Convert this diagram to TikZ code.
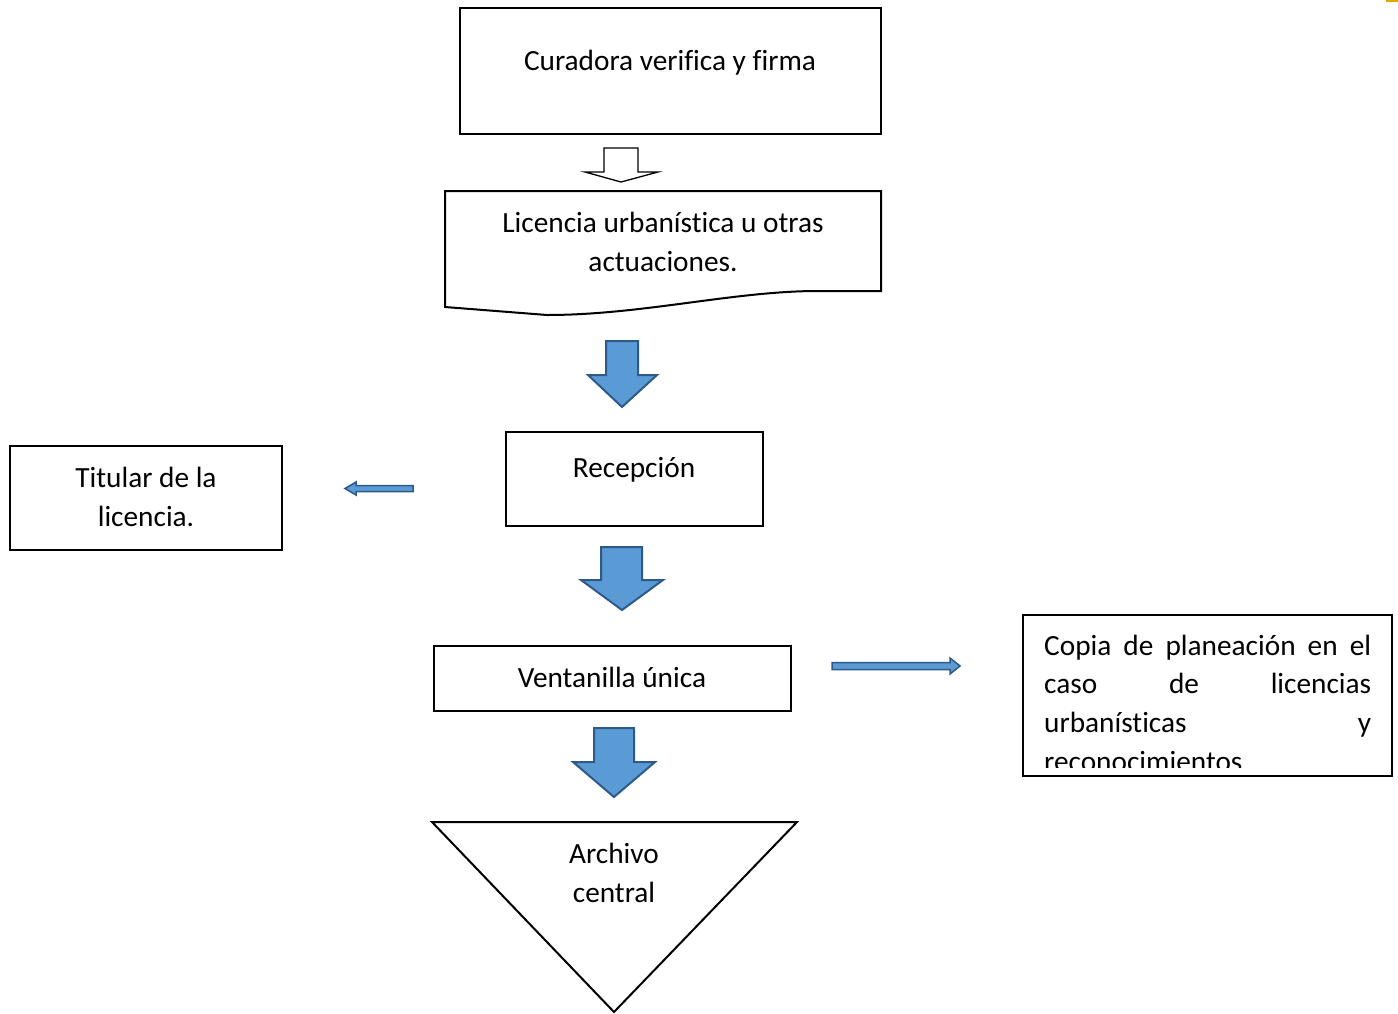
\documentclass[tikz,border=0pt]{standalone}
\usepackage{fontspec}
\setmainfont{Carlito}[Ligatures=CommonOff]
\definecolor{bfill}{HTML}{5B9BD5}
\definecolor{bline}{HTML}{2E5A8A}
\definecolor{orng}{HTML}{E0A800}
\begin{document}
\begin{tikzpicture}[x=1pt,y=-1pt,
  box/.style={draw=black,line width=2pt,fill=white,inner sep=0pt},
  txt/.style={inner sep=0pt,align=center,font=\fontsize{29.3}{39}\selectfont},
  blockarrow/.style={fill=bfill,draw=bline,line width=2pt,line join=miter},
  hollowarrow/.style={fill=white,draw=black,line width=1.3pt,line join=miter}]
\useasboundingbox (0,0) rectangle (1398,1013);
\fill[white] (0,0) rectangle (1398,1013);
% orange fragment at top-right
\draw[orng,line width=3pt] (1386,0.5) -- (1398,0.5);

% Box 1
\node[box,minimum width=421pt,minimum height=126pt] (cur) at (670.5,71) {};
\node[txt] (curt) at (670,63) {Curadora verifica y firma};

% hollow arrow
\draw[hollowarrow] (604,148) -- (638,148) -- (638,172) -- (658,172) -- (621,182) -- (585,172) -- (604,172) -- cycle;

% document shape
\draw[line width=2pt,fill=white,line join=miter] (445,191) coordinate (docA) -- (881,191) -- (881,291) -- (813,291)
  .. controls (730,292) and (640,315) .. (547,315) -- (445,307) -- cycle;
\node[txt] (doct) at (663,242) {Licencia urbanística u otras\\actuaciones.};

% blue arrow 1
\draw[blockarrow] (606,341) -- (638,341) -- (638,375) -- (657,375) -- (622,407) -- (588,375) -- (606,375) -- cycle;

% Recepcion
\node[box,minimum width=257pt,minimum height=94pt] (rec) at (634.5,479) {};
\node[txt] (rect) at (634,470) {Recepción};

% Titular
\node[box,minimum width=272pt,minimum height=104pt] (tit) at (146,498) {};
\node[txt] (titt) at (146,497) {Titular de la\\licencia.};

% thin left arrow
\draw[blockarrow,line width=1.5pt] (413,485.5) -- (356,485.5) -- (356,482) -- (345,488.5) -- (356,495) -- (356,491.5) -- (413,491.5) -- cycle;

% blue arrow 2
\draw[blockarrow] (601,547) -- (642,547) -- (642,580) -- (663,580) -- (622,610) -- (581,580) -- (601,580) -- cycle;

% Ventanilla
\node[box,minimum width=357pt,minimum height=65pt] (ven) at (612.5,678.5) {};
\node[txt] (vent) at (612,677.5) {Ventanilla única};

% right thin arrow
\draw[blockarrow,line width=1.5pt] (832,662.5) -- (950,662.5) -- (950,658) -- (960,666) -- (950,674) -- (950,669.5) -- (832,669.5) -- cycle;

% Copia box
\node[box,minimum width=369pt,minimum height=161pt] (cop) at (1207.5,695.5) {};
\begin{scope}
\clip (1024,616) rectangle (1391,767);
\node[txt,anchor=base west] (c1) at (1044,655) {\makebox[327pt][s]{Copia de planeación en el}};
\node[txt,anchor=base west] (c2) at (1044,693.5) {\makebox[327pt][s]{caso de licencias}};
\node[txt,anchor=base west] (c3) at (1044,732) {\makebox[327pt][s]{urbanísticas y}};
\node[txt,anchor=base west] (c4) at (1044,771) {reconocimientos};
\end{scope}

% blue arrow 3
\draw[blockarrow] (594,728) -- (634,728) -- (634,762) -- (655,762) -- (614,797) -- (573,762) -- (594,762) -- cycle;

% triangle
\draw[line width=2pt,fill=white,line join=miter] (432,822) coordinate (triL) -- (797,822) coordinate (triR) -- (614,1012) coordinate (triB) -- cycle;
\node[txt] (arch) at (614,872.5) {Archivo\\central};
\end{tikzpicture}
\end{document}
